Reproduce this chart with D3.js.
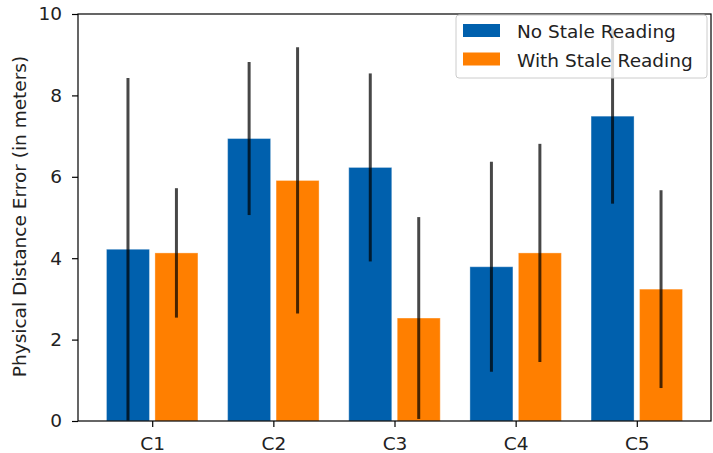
<!DOCTYPE html>
<html>
<head>
<meta charset="utf-8">
<script src="https://cdn.jsdelivr.net/npm/d3@7/dist/d3.min.js"></script>
<style>
  html, body { margin: 0; padding: 0; background: #fff; }
  svg { display: block; font-family: "DejaVu Sans", sans-serif; }
</style>
</head>
<body>
<svg id="chart" width="713" height="453"></svg>
<script>
// Mean physical distance error per configuration, with symmetric error bars
const categories = ["C1", "C2", "C3", "C4", "C5"];
const seriesNames = ["No Stale Reading", "With Stale Reading"];
const noStaleMean = [4.22, 6.94, 6.23, 3.79, 7.49];
const noStaleErr  = [4.21, 1.88, 2.31, 2.58, 2.15];
const staleMean   = [4.13, 5.91, 2.53, 4.13, 3.24];
const staleErr    = [1.59, 3.27, 2.48, 2.68, 2.43];
const yTicks = [0, 2, 4, 6, 8, 10];
const colors = ["#0060ad", "#ff7f00"];

const series = [
  { name: seriesNames[0], mean: noStaleMean, err: noStaleErr, color: colors[0], offset: -0.2 },
  { name: seriesNames[1], mean: staleMean,   err: staleErr,   color: colors[1], offset: 0.2 }
];
const barWidth = 0.355;

const svg = d3.select("#chart");
const m = { left: 78, right: 2, top: 14, bottom: 32 };
const W = 713, H = 453;
const fontSize = 18.5;

const x = d3.scaleLinear().domain([-0.6125, 4.6125]).range([m.left, W - m.right]);
const y = d3.scaleLinear().domain([0, 10]).range([H - m.bottom, m.top]);

// Bars
series.forEach(s => {
  svg.append("g").selectAll("rect").data(s.mean).join("rect")
    .attr("x", (d, i) => x(i + s.offset - barWidth / 2))
    .attr("width", x(barWidth) - x(0))
    .attr("y", d => y(d))
    .attr("height", d => y(0) - y(d))
    .attr("fill", s.color)
    .attr("stroke", "#fff")
    .attr("stroke-opacity", 0.35)
    .attr("stroke-width", 1);
});

// Error bars
series.forEach(s => {
  svg.append("g").selectAll("line").data(s.mean).join("line")
    .attr("x1", (d, i) => x(i + s.offset))
    .attr("x2", (d, i) => x(i + s.offset))
    .attr("y1", (d, i) => y(Math.max(0, d - s.err[i])))
    .attr("y2", (d, i) => y(d + s.err[i]))
    .attr("stroke", "#000")
    .attr("stroke-opacity", 0.72)
    .attr("stroke-width", 3);
});

// Axes
const xAxis = svg.append("g")
  .attr("transform", `translate(0,${y(0)})`)
  .call(d3.axisBottom(x).tickValues(d3.range(categories.length))
    .tickFormat(i => categories[i]).tickSize(6).tickPadding(10));
const yAxis = svg.append("g")
  .attr("transform", `translate(${m.left},0)`)
  .call(d3.axisLeft(y).tickValues(yTicks).tickFormat(d3.format("d")).tickSize(6).tickPadding(10));
[xAxis, yAxis].forEach(a => {
  a.select(".domain").remove();
  a.selectAll(".tick line").attr("stroke", "#000").attr("stroke-width", 1.2);
  a.selectAll(".tick text").attr("fill", "#222")
    .style("font-family", "DejaVu Sans, sans-serif").style("font-size", fontSize + "px");
});

// Frame
svg.append("rect")
  .attr("x", m.left).attr("y", m.top)
  .attr("width", W - m.right - m.left).attr("height", y(0) - m.top)
  .attr("fill", "none").attr("stroke", "#000").attr("stroke-width", 1.2);

// Y axis label
svg.append("text")
  .attr("transform", `translate(26,${(m.top + y(0)) / 2 - 1}) rotate(-90)`)
  .attr("text-anchor", "middle")
  .attr("fill", "#222")
  .style("font-size", fontSize + "px")
  .text("Physical Distance Error (in meters)");

// Legend
const lg = svg.append("g").attr("transform", "translate(456,15)");
lg.append("rect")
  .attr("width", 251).attr("height", 63).attr("rx", 3)
  .attr("fill", "#fff").attr("fill-opacity", 0.8)
  .attr("stroke", "#ccc").attr("stroke-width", 1);
series.forEach((s, i) => {
  const row = lg.append("g").attr("transform", `translate(0,${9 + i * 28.5})`);
  row.append("rect").attr("x", 7).attr("y", 0).attr("width", 37).attr("height", 13).attr("fill", s.color);
  row.append("text").attr("x", 61).attr("y", 14)
    .attr("fill", "#222").style("font-size", fontSize + "px").text(s.name);
});
</script>
</body>
</html>
